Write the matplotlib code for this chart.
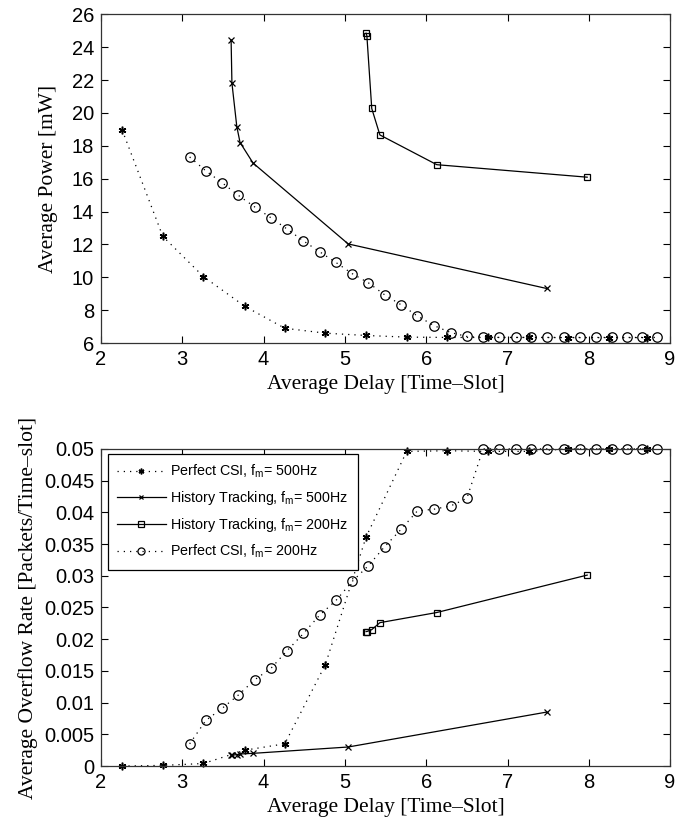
import matplotlib
matplotlib.use("Agg")
import matplotlib.pyplot as plt

plt.rcParams['font.family'] = ['Liberation Sans', 'DejaVu Sans']
plt.rcParams['mathtext.fontset'] = 'custom'
plt.rcParams['mathtext.rm'] = 'Liberation Sans'
plt.rcParams['mathtext.it'] = 'Liberation Sans'

# Perfect CSI, fm = 500Hz
csi500_delay = [2.26, 2.76, 3.26, 3.77, 4.26, 4.76, 5.26, 5.76, 6.26, 6.76, 7.27, 7.75, 8.25, 8.72]
csi500_power = [18.96, 12.49, 10.04, 8.23, 6.90, 6.60, 6.46, 6.36, 6.34, 6.34, 6.34, 6.33, 6.33, 6.33]
csi500_overflow = [0.0, 0.0001, 0.0004, 0.0025, 0.0035, 0.0160, 0.0361, 0.0496, 0.0497, 0.0496, 0.0496, 0.0500, 0.0500, 0.0500]

# History Tracking, fm = 500Hz
ht500_delay = [3.60, 3.61, 3.67, 3.71, 3.87, 5.04, 7.48]
ht500_power = [24.43, 21.82, 19.17, 18.20, 16.95, 12.03, 9.32]
ht500_overflow = [0.0017, 0.0017, 0.0018, 0.0019, 0.0020, 0.0030, 0.0085]

# History Tracking, fm = 200Hz
ht200_delay = [5.26, 5.27, 5.33, 5.43, 6.13, 7.98]
ht200_power = [24.85, 24.70, 20.27, 18.66, 16.85, 16.09]
ht200_overflow = [0.0212, 0.0212, 0.0215, 0.0226, 0.0242, 0.0301]

# Perfect CSI, fm = 200Hz
csi200_delay = [3.09, 3.29, 3.49, 3.69, 3.89, 4.09, 4.29, 4.49, 4.69, 4.89,
                5.09, 5.29, 5.49, 5.69, 5.89, 6.10, 6.30, 6.50, 6.70, 6.90,
                7.10, 7.29, 7.49, 7.69, 7.89, 8.09, 8.29, 8.47, 8.66, 8.84]
csi200_power = [17.32, 16.47, 15.75, 14.98, 14.28, 13.62, 12.93, 12.21, 11.55, 10.90,
                10.22, 9.66, 8.93, 8.33, 7.65, 7.05, 6.64, 6.40, 6.36, 6.34,
                6.34, 6.34, 6.34, 6.34, 6.34, 6.34, 6.34, 6.34, 6.34, 6.34]
csi200_overflow = [0.0035, 0.0072, 0.0091, 0.0112, 0.0136, 0.0154, 0.0182, 0.0209, 0.0238, 0.0261,
                   0.0291, 0.0316, 0.0346, 0.0373, 0.0402, 0.0405, 0.0410, 0.0422, 0.0500, 0.0500,
                   0.0500, 0.0500, 0.0500, 0.0500, 0.0500, 0.0500, 0.0500, 0.0500, 0.0500, 0.0500]

labels = ["Perfect CSI, $f_\\mathrm{m}$= 500Hz",
          "History Tracking, $f_\\mathrm{m}$= 500Hz",
          "History Tracking, $f_\\mathrm{m}$= 200Hz",
          "Perfect CSI, $f_\\mathrm{m}$= 200Hz"]

xticks = [2, 3, 4, 5, 6, 7, 8, 9]
power_ticks = [6, 8, 10, 12, 14, 16, 18, 20, 22, 24, 26]
overflow_ticks = [0, 0.005, 0.01, 0.015, 0.02, 0.025, 0.03, 0.035, 0.04, 0.045, 0.05]
overflow_ticklabels = ["0", "0.005", "0.01", "0.015", "0.02", "0.025", "0.03", "0.035", "0.04", "0.045", "0.05"]

fig = plt.figure(figsize=(6.84, 8.26), dpi=100)
ax1 = fig.add_axes([0.1477, 0.5847, 0.832, 0.398])
ax2 = fig.add_axes([0.1477, 0.0726, 0.832, 0.384])

serif = ['Liberation Serif', 'DejaVu Serif']

def draw(ax, ys):
    ax.plot(csi500_delay, ys[0], linestyle=(0, (1, 4)), color='black', lw=0.9,
            marker=(6, 2, 0), markersize=5.5, markeredgewidth=1.1, label=labels[0], clip_on=False)
    ax.plot(ht500_delay, ys[1], linestyle='-', color='black', lw=0.9,
            marker='x', markersize=4, markeredgewidth=0.9, label=labels[1], clip_on=False)
    ax.plot(ht200_delay, ys[2], linestyle='-', color='black', lw=0.9,
            marker='s', markersize=5, markerfacecolor='none', markeredgewidth=0.9, label=labels[2], clip_on=False)
    ax.plot(csi200_delay, ys[3], linestyle=(0, (1, 4)), color='black', lw=0.9,
            marker='o', markersize=6.8, markerfacecolor='none', markeredgewidth=0.9, label=labels[3], clip_on=False)
    ax.set_xlim(2, 9)
    ax.set_xticks(xticks)
    ax.tick_params(direction='in', top=True, right=True, labelsize=14.5, length=5, width=0.8, pad=5)
    for s in ax.spines.values():
        s.set_linewidth(0.9)
        s.set_color('#333333')
    ax.set_xlabel("Average Delay [Time\u2013Slot]", family=serif, fontsize=15.5, labelpad=4)

draw(ax1, [csi500_power, ht500_power, ht200_power, csi200_power])
ax1.set_ylim(6, 26)
ax1.set_yticks(power_ticks)
ax1.set_ylabel("Average Power [mW]", family=serif, fontsize=15.5, labelpad=10)

draw(ax2, [csi500_overflow, ht500_overflow, ht200_overflow, csi200_overflow])
ax2.set_ylim(0, 0.05)
ax2.set_yticks(overflow_ticks)
ax2.set_yticklabels(overflow_ticklabels)
ax2.set_ylabel("Average Overflow Rate [Packets/Time\u2013slot]", family=serif, fontsize=15.5, labelpad=4)

leg = ax2.legend(loc='upper left', bbox_to_anchor=(0.012, 0.985), fontsize=10.3, frameon=True,
                 fancybox=False, edgecolor='black', framealpha=1, handlelength=3.4,
                 borderpad=0.65, labelspacing=0.62, handletextpad=0.3, borderaxespad=0)
leg.get_frame().set_linewidth(0.9)
for h in leg.legend_handles:
    h.set_markersize(h.get_markersize() * 0.75)

fig.savefig("out.png", dpi=100)
